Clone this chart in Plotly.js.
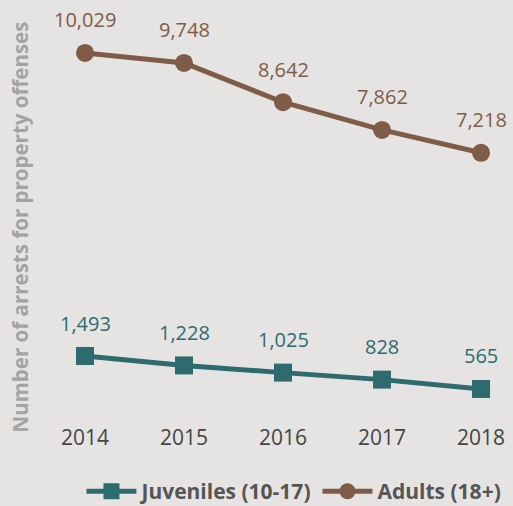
<!DOCTYPE html>
<html>
<head>
<meta charset="utf-8">
<script src="https://cdn.plot.ly/plotly-3.0.1.min.js"></script>
<style>html,body{margin:0;padding:0;background:#e6e4e3;}#chart{width:513px;height:506px;}</style>
</head>
<body>
<div id="chart"></div>
<script>
const years = [2014, 2015, 2016, 2017, 2018];
const juveniles = [1493, 1228, 1025, 828, 565];
const adults = [10029, 9748, 8642, 7862, 7218];
const seriesNames = ['Juveniles (10-17)', 'Adults (18+)'];

const fmt = v => v.toLocaleString('en-US');
const teal = '#2e6b6f';
const brown = '#7e5c47';

const traces = [
  {
    x: years, y: juveniles, name: seriesNames[0], type: 'scatter', mode: 'lines+markers',
    line: {color: teal, width: 5},
    marker: {symbol: 'square', size: 18, color: teal},
    cliponaxis: false
  },
  {
    x: years, y: adults, name: seriesNames[1], type: 'scatter', mode: 'lines+markers',
    line: {color: brown, width: 5},
    marker: {symbol: 'circle', size: 18, color: brown},
    cliponaxis: false
  }
];

const labelAnn = (xs, ys, color) => xs.map((x, i) => ({
  x: x, y: ys[i], xref: 'x', yref: 'y', text: fmt(ys[i]), showarrow: false,
  yshift: 33, font: {family: 'Open Sans', size: 20, color: color}
}));

const layout = {
  width: 513, height: 506,
  paper_bgcolor: '#e6e4e3', plot_bgcolor: '#e6e4e3',
  margin: {l: 36, r: 8, t: 31, b: 83},
  font: {family: 'Open Sans', color: '#555555'},
  showlegend: true,
  legend: {orientation: 'h', x: 0.55, xanchor: 'center', yref: 'container', y: 0.069, yanchor: 'top',
    font: {family: 'Open Sans', size: 21, color: '#555555', weight: 'bold'}, itemwidth: 50, traceorder: 'normal'},
  annotations: labelAnn(years, juveniles, teal).concat(labelAnn(years, adults, brown)),
  xaxis: {
    range: [2013.505, 2018.242], tickvals: years, ticktext: years.map(String),
    showgrid: false, zeroline: false, showline: false, ticks: '',
    tickfont: {family: 'Open Sans', size: 21, color: '#444444'}, ticklabelstandoff: 0
  },
  yaxis: {
    range: [-394, 10648], showgrid: false, zeroline: false, showline: false, showticklabels: false, ticks: '',
    title: {text: 'Number of arrests for property offenses', standoff: 0,
      font: {family: 'Open Sans', size: 20.5, color: '#a3a3a3', weight: 'bold'}}
  }
};

Plotly.newPlot('chart', traces, layout, {displayModeBar: false, staticPlot: true});
</script>
</body>
</html>
